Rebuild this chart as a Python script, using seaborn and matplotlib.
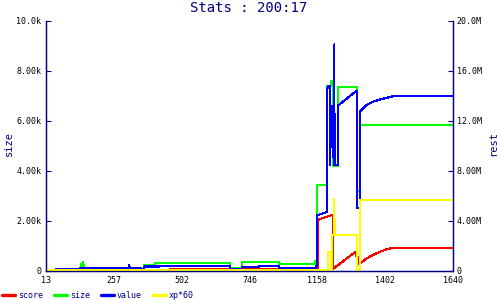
import matplotlib
matplotlib.use("Agg")
import matplotlib.pyplot as plt
import seaborn as sns
import pandas as pd
from matplotlib.lines import Line2D

# ---- data (x = sample position, ticks every 100 samples) ----
x_tick_pos = [0, 100, 200, 300, 400, 500, 600]
x_tick_labels = ["13", "257", "502", "746", "1158", "1402", "1640"]

left_ticks = [0, 2, 4, 6, 8, 10]
left_tick_labels = ["0", "2.00k", "4.00k", "6.00k", "8.00k", "10.0k"]
right_ticks = [0, 4, 8, 12, 16, 20]
right_tick_labels = ["0", "4.00M", "8.00M", "12.0M", "16.0M", "20.0M"]

# size (thousands, left axis)
size_x = [14.7, 50.6, 50.6, 52.0, 52.0, 52.5, 55.0, 55.0, 55.5, 121.5, 122.4, 123.3,
          140.0, 140.0, 144.9, 144.9, 160.7, 160.7, 271.7, 271.7, 288.5, 288.5,
          343.9, 343.9, 396.6, 396.6, 399.9, 399.9, 414.7, 414.7, 420.2, 420.2,
          423.1, 423.1, 430.0, 430.0, 458.0, 458.9, 462.9, 462.9, 600.0]
size_y = [0.07, 0.07, 0.12, 0.12, 0.28, 0.12, 0.12, 0.36, 0.12, 0.12, 0.24, 0.12,
          0.12, 0.06, 0.06, 0.23, 0.23, 0.31, 0.31, 0.12, 0.12, 0.35,
          0.35, 0.28, 0.28, 0.41, 0.41, 3.44, 3.44, 7.4, 7.4, 7.6,
          7.6, 4.2, 4.2, 7.35, 7.35, 3.2, 3.2, 5.83, 5.83]

# score (millions, right axis)
score_x = [182.8, 401.4, 401.4, 422.8, 422.8, 455.5, 457.0, 458.0, 459.5, 460.4,
           462.9, 472.8, 482.5, 492.4, 502.3, 509.6, 600.0]
score_y = [0.14, 0.14, 4.1, 4.5, 0.15, 1.5, 1.52, 1.1, 1.1, 0.54,
           0.62, 1.01, 1.3, 1.54, 1.74, 1.82, 1.82]

# value (millions, right axis)
value_x = [14.7, 50.6, 50.6, 121.5, 122.4, 123.3, 140.0, 140.0, 144.9, 144.9,
           166.6, 166.6, 271.7, 271.7, 288.5, 288.5, 314.0, 314.0, 343.9, 343.9,
           397.6, 397.6, 399.9, 399.9, 414.7, 414.7, 416.5, 418.7, 418.7,
           419.2, 419.7, 420.2, 420.7, 421.2, 421.7, 422.1, 422.6, 423.1, 423.6,
           424.1, 424.6, 425.0, 425.4, 429.9, 430.0, 458.0, 458.9, 462.9, 462.9,
           472.8, 482.5, 492.4, 502.3, 511.9, 600.0]
value_y = [0.14, 0.14, 0.24, 0.24, 0.48, 0.24, 0.24, 0.12, 0.12, 0.36,
           0.36, 0.4, 0.4, 0.16, 0.16, 0.32, 0.32, 0.4, 0.4, 0.22,
           0.22, 0.42, 0.42, 4.45, 4.72, 14.6, 14.8, 14.8, 8.5,
           13.2, 10.0, 13.2, 9.9, 13.2, 10.0, 13.2, 9.9, 13.2, 10.0,
           8.5, 8.5, 18.1, 8.5, 8.5, 13.2, 14.4, 5.0, 5.0, 12.75,
           13.28, 13.54, 13.7, 13.84, 13.97, 13.97]

# xp*60 (millions, right axis)
xp_x = [0.0, 416.2, 416.2, 420.6, 420.6, 421.6, 421.6, 424.6, 425.0, 425.4,
        458.0, 458.9, 462.9, 462.9, 600.0]
xp_y = [0.08, 0.08, 1.52, 1.52, 0.0, 0.0, 2.86, 2.86, 5.76, 2.86,
        2.86, 0.05, 0.05, 5.68, 5.68]

NAVY = "#000080"
MONO = "DejaVu Sans Mono"
colors = {"score": "#ff0000", "size": "#00ff00", "value": "#0000ff", "xp*60": "#ffff00"}

sns.set_style("white")
plt.rcParams["font.family"] = [MONO]

fig = plt.figure(figsize=(5, 3), dpi=100)
ax = fig.add_axes([46 / 500, 29 / 300, 407 / 500, 250.3 / 300])
ax2 = ax.twinx()

def draw(a, xs, ys, name):
    df = pd.DataFrame({"x": xs, "y": ys})
    sns.lineplot(data=df, x="x", y="y", ax=a, sort=False, estimator=None,
                 color=colors[name], linewidth=0.8, antialiased=False)

draw(ax, size_x, size_y, "size")
draw(ax2, score_x, score_y, "score")
draw(ax2, value_x, value_y, "value")
draw(ax2, xp_x, xp_y, "xp*60")

ax.set_xlim(0, 600)
ax.set_ylim(0, 10)
ax2.set_ylim(0, 20)
ax.set_xticks(x_tick_pos)
ax.set_xticklabels(x_tick_labels)
ax.set_yticks(left_ticks)
ax.set_yticklabels(left_tick_labels)
ax2.set_yticks(right_ticks)
ax2.set_yticklabels(right_tick_labels)
for a in (ax, ax2):
    a.set_xlabel("")
    a.set_ylabel("")
    a.spines["top"].set_visible(False)
    for s in ("left", "right", "bottom"):
        a.spines[s].set_color(NAVY)
        a.spines[s].set_linewidth(0.9)
    a.tick_params(direction="in", length=3.5, width=0.8, color=NAVY,
                  labelsize=6, labelcolor="black")
ax.tick_params(axis="y", pad=3.4)
ax.tick_params(axis="x", pad=3.6)
ax2.tick_params(axis="y", pad=2.7)
ax.grid(False)
ax2.grid(False)

fig.text(249 / 500, 1 - 8 / 300, "Stats : 200:17", color=NAVY, fontsize=10,
         ha="center", va="center")
fig.text(8.5 / 500, 1 - 144 / 300, "size", color=NAVY, fontsize=7.5,
         rotation=90, ha="center", va="center")
fig.text(493 / 500, 1 - 144 / 300, "rest", color=NAVY, fontsize=7.5,
         rotation=90, ha="center", va="center")

names = ["score", "size", "value", "xp*60"]
handles = [Line2D([0], [0], color=colors[n], linewidth=2.4) for n in names]
leg = fig.legend(handles, names, loc="center left", bbox_to_anchor=(0.0, 1 - 295 / 300),
                 ncol=4, frameon=False, fontsize=6, handlelength=1.6,
                 handletextpad=0.35, columnspacing=1.3, borderaxespad=0, borderpad=0.2)
for t in leg.get_texts():
    t.set_color(NAVY)

fig.savefig("out.png", dpi=100)
